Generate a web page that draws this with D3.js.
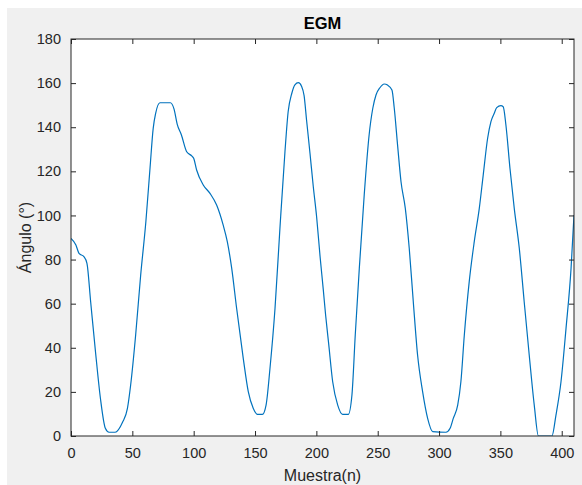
<!DOCTYPE html>
<html>
<head>
<meta charset="utf-8">
<script src="https://cdn.jsdelivr.net/npm/d3@7"></script>
<style>
  body { margin: 0; background: #fff; }
  text { font-family: "Liberation Sans", Arial, Helvetica, sans-serif; }
</style>
</head>
<body>
<div id="chart"></div>
<script>
var muestra = [0, 4, 6.5, 10.5, 13, 16, 20, 24, 28, 31, 36, 42, 46, 48.6, 52.7, 56.8, 61, 64.4, 67, 69, 72.5,
  81, 84, 86.6, 90, 94.3, 98.4, 100, 102.4, 107.8, 113.3, 118.7, 124, 127.4, 131, 135, 140.4, 144.5, 148.6, 152,
  156, 159, 162.2, 166.3, 170.3, 174.4, 177, 180, 182.5, 185.3, 188, 190, 192, 194.8, 197.5, 200.2, 203, 205.6,
  207.6, 210, 213.3, 217.4, 221.4, 226, 229, 231.7, 235, 239, 243, 246, 248.6, 251.8, 255.3, 258, 261.6, 263.5,
  266.2, 269, 272.5, 275.7, 279, 282.5, 286.6, 290.7, 294.8, 305.6, 309, 311.6, 315.2, 317.8, 320.6, 324.6, 328.7,
  332.8, 336, 339.6, 342.3, 345, 347, 350.4, 352.3, 354.5, 357.8, 361.3, 365.4, 369.4, 373.5, 377.6, 381, 392,
  395.3, 399.4, 403.5, 407.6, 410]
var angulo = [89.6, 86.6, 82.8, 81.3, 78.3, 61, 38, 17, 3.5, 1.7, 1.7, 6.2, 12.5, 23, 45.8, 73, 97, 121.4, 139.5, 146.3, 151.1,
  151.1, 148.2, 141.3, 136.5, 128.9, 127, 125.9, 120.6, 113.8, 110, 104.7, 95.7, 88.1, 76, 57.9, 35.2, 20.1, 12.5, 9.8,
  9.8, 14, 30.7, 57.9, 94.2, 128.9, 147, 155.4, 159.2, 160.2, 158.5, 154.3, 143.3, 128.2, 113, 99.4, 81.5, 66.6,
  54.5, 42, 24.6, 14, 9.8, 9.8, 18.6, 45.8, 76, 109.3, 136.5, 148.6, 154.6, 157.9, 159.6, 159.1, 156.9, 148.6,
  131.9, 115.3, 103.2, 85.1, 60.9, 36.7, 20.1, 8, 2, 1.7, 3.5, 8, 14, 24.6, 45.8, 70, 88.1,
  103.2, 118.3, 135, 142.5, 146.3, 148.9, 149.8, 149.3, 141, 121.4, 103.2, 85.1, 60.9, 36.7, 14, 0, 0,
  9.5, 24.6, 48.8, 76, 100.2]

var xTicks = [0, 50, 100, 150, 200, 250, 300, 350, 400]
var yTicks = [0, 20, 40, 60, 80, 100, 120, 140, 160, 180]
var xDomain = [0, 410]
var yDomain = [0, 180]

var width = 582, height = 485
var margin = {top: 39, right: 8, bottom: 49, left: 71}

var svg = d3.select("#chart")
  .append("svg")
    .attr("width", width)
    .attr("height", height)

// figure background
svg.append("rect")
  .attr("x", 7).attr("y", 8)
  .attr("width", width - 7).attr("height", height - 8)
  .attr("fill", "#f0f0f0")

var w = width - margin.left - margin.right,
    h = height - margin.top - margin.bottom

var g = svg.append("g")
  .attr("transform", "translate(" + margin.left + "," + margin.top + ")")

g.append("rect")
  .attr("width", w).attr("height", h)
  .attr("fill", "white")

var x = d3.scaleLinear().domain(xDomain).range([0, w])
var y = d3.scaleLinear().domain(yDomain).range([h, 0])

var pts = muestra.map(function(d, i) { return [d, angulo[i]] })

g.append("clipPath").attr("id", "clip")
  .append("rect").attr("width", w).attr("height", h)

g.append("path")
  .datum(pts)
  .attr("clip-path", "url(#clip)")
  .attr("fill", "none")
  .attr("stroke", "#0072bd")
  .attr("stroke-width", 1.2)
  .attr("stroke-linejoin", "round")
  .attr("d", d3.line()
    .x(function(d) { return x(d[0]) })
    .y(function(d) { return y(d[1]) })
    .curve(d3.curveMonotoneX))

var axColor = "#262626"

function styleAxis(sel, showText) {
  sel.select(".domain").remove()
  sel.selectAll("line").attr("stroke", axColor)
  sel.selectAll("text")
    .attr("fill", showText ? axColor : "none")
    .style("font-size", "14.5px")
}

g.append("g")
  .attr("transform", "translate(0," + h + ")")
  .call(d3.axisBottom(x).tickValues(xTicks).tickSize(-5).tickPadding(12))
  .call(styleAxis, true)

g.append("g")
  .call(d3.axisTop(x).tickValues(xTicks).tickSize(-5).tickFormat(""))
  .call(styleAxis, false)

g.append("g")
  .call(d3.axisLeft(y).tickValues(yTicks).tickSize(-5).tickPadding(10))
  .call(styleAxis, true)

g.append("g")
  .attr("transform", "translate(" + w + ",0)")
  .call(d3.axisRight(y).tickValues(yTicks).tickSize(-5).tickFormat(""))
  .call(styleAxis, false)

// box
g.append("rect")
  .attr("width", w).attr("height", h)
  .attr("fill", "none")
  .attr("stroke", axColor)
  .attr("stroke-width", 1)

// title and labels
svg.append("text")
  .attr("x", margin.left + w / 2)
  .attr("y", 29)
  .attr("text-anchor", "middle")
  .style("font-size", "16.5px")
  .style("font-weight", "bold")
  .attr("fill", "#000")
  .text("EGM")

svg.append("text")
  .attr("x", margin.left + w / 2)
  .attr("y", 481)
  .attr("text-anchor", "middle")
  .style("font-size", "16px")
  .attr("fill", axColor)
  .text("Muestra(n)")

svg.append("text")
  .attr("transform", "translate(31," + (margin.top + h / 2) + ")rotate(-90)")
  .attr("text-anchor", "middle")
  .style("font-size", "16px")
  .attr("fill", axColor)
  .text("Ángulo (°)")
</script>
</body>
</html>
